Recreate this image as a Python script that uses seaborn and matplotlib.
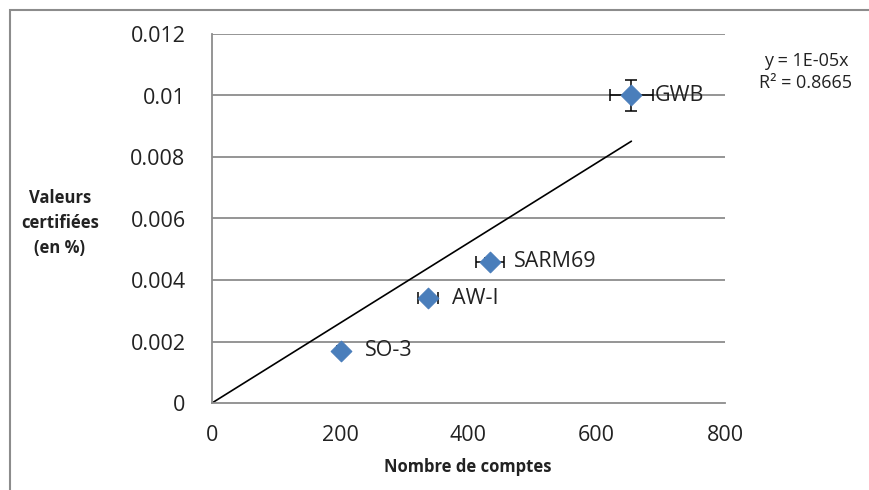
import numpy as np
import pandas as pd
import matplotlib
matplotlib.use('Agg')
import matplotlib.pyplot as plt
import seaborn as sns
from matplotlib.patches import Rectangle

# Données
echantillons = ['SO-3', 'AW-I', 'SARM69', 'GWB']
comptes = [201, 337, 434, 654]
valeurs = [0.0017, 0.0034, 0.0046, 0.0100]
err_comptes = [6, 16, 22, 33]
err_valeurs = [0.00005, 0.00008, 0.0001, 0.0005]
y_ticks = [0, 0.002, 0.004, 0.006, 0.008, 0.01, 0.012]
y_labels = ['0', '0.002', '0.004', '0.006', '0.008', '0.01', '0.012']
x_ticks = [0, 200, 400, 600, 800]

df = pd.DataFrame({'comptes': comptes, 'valeurs': valeurs, 'nom': echantillons})

sns.set_style('white')
plt.rcParams['font.family'] = ['Open Sans', 'DejaVu Sans']

fig = plt.figure(figsize=(8.7, 4.9), dpi=100)
ax = fig.add_axes([212/870, 87/490, 513/870, 369/490])

gris = '#8c8c8c'
texte = '#222222'
for yt in y_ticks[1:]:
    ax.axhline(yt, color=gris, lw=1.3, zorder=0)

# courbe de tendance passant par l'origine (moindres carrés)
x = np.array(comptes, dtype=float)
y = np.array(valeurs)
pente = (x * y).sum() / (x * x).sum()
tend = pd.DataFrame({'x': [0, x.max()], 'y': [0, pente * x.max()]})
sns.lineplot(data=tend, x='x', y='y', color='black', lw=1.2, ax=ax, zorder=2)

ax.errorbar(comptes, valeurs, xerr=err_comptes, yerr=err_valeurs, fmt='none',
            ecolor='black', elinewidth=1.1, capsize=4.5, capthick=1.1, zorder=3)
sns.scatterplot(data=df, x='comptes', y='valeurs', marker='D', s=110,
                color='#4a7ebb', edgecolor='#4a7ebb', ax=ax, zorder=4)

for nom, cx, cy in zip(echantillons, comptes, valeurs):
    ax.annotate(nom, (cx, cy), xytext=(17, 0),
                textcoords='offset points', va='center', ha='left',
                fontsize=15.5, color=texte)

ax.set_xlim(0, 800)
ax.set_ylim(0, 0.012)
ax.set_xticks(x_ticks)
ax.set_yticks(y_ticks)
ax.set_yticklabels(y_labels)
ax.tick_params(axis='both', which='both', direction='out', length=6, width=1.3,
               color=gris, labelsize=15.5, labelcolor=texte)
ax.tick_params(axis='y', pad=13)
ax.tick_params(axis='x', pad=10)
for s in ['top', 'right']:
    ax.spines[s].set_visible(False)
for s in ['left', 'bottom']:
    ax.spines[s].set_color(gris)
    ax.spines[s].set_linewidth(1.3)
ax.set_xlabel('')
ax.set_ylabel('')

fig.text(468/870, 1 - 467/490, 'Nombre de comptes', ha='center', va='center',
         fontsize=12, fontweight='bold', color=texte)
fig.text(60/870, 1 - 223/490, 'Valeurs\ncertifiées\n(en %)', ha='center', va='center',
         fontsize=12, fontweight='bold', color=texte, linespacing=1.5)
fig.text(806/870, 1 - 72/490, 'y = 1E-05x\nR² = 0.8665', ha='center', va='center',
         fontsize=13, color=texte, linespacing=1.3)

fig.patches.append(Rectangle((10/870, -0.1), 1.2, 1 - 10/490 + 0.1,
                             transform=fig.transFigure, fill=False,
                             edgecolor=gris, lw=1.5))

fig.savefig('out.png', dpi=100)
